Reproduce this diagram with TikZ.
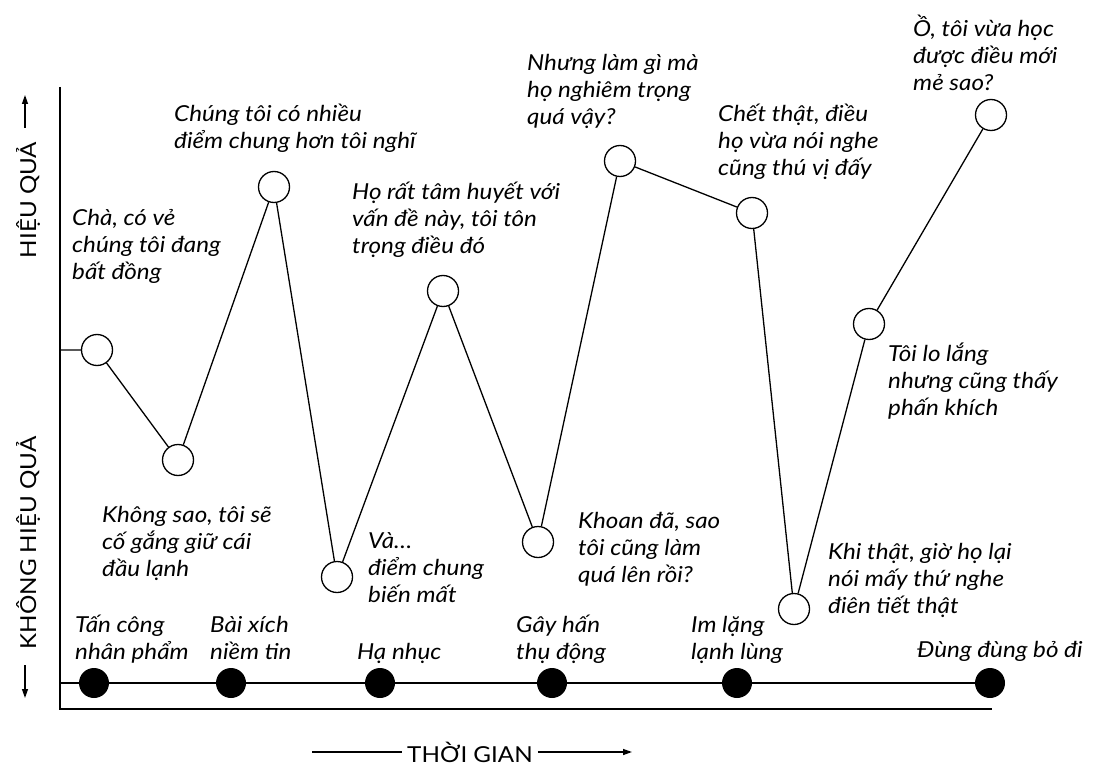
\documentclass[tikz,border=0pt]{standalone}
\usepackage{fontspec}
\setmainfont{Lato}[FakeStretch=1.1]
\usetikzlibrary{arrows.meta, positioning}
% fixed height of every first line, so that the north west corner sets the baseline
\newcommand{\firstline}{\rule{0pt}{24pt}}
\tikzset{
	state/.style    ={circle, draw=black, line width=1.3pt, fill=white, minimum size=31pt, inner sep=0pt},
	tactic/.style   ={circle, fill=black, minimum size=30pt, inner sep=0pt},
	thought/.style  ={anchor=north west, align=left, inner sep=0pt, font=\fontsize{22}{27}\selectfont\itshape},
	axislabel/.style={inner sep=0pt, font=\fontsize{22}{27}\selectfont},
	swing/.style    ={line width=1.3pt},
	axisline/.style ={line width=1.8pt},
	axisarrow/.style={-{Triangle[length=9pt, width=6pt]}, line width=1.3pt},
}

\begin{document}
\begin{tikzpicture}[x=1pt, y=-1pt]
	\useasboundingbox (0,0) rectangle (1100,767);
	% axes
	\coordinate (top) at (60,87);
	\coordinate (origin) at (60,709);
	\coordinate (right) at (992,709);
	\draw[axisline] (top) -- (origin) -- (right);
	\node[axislabel, rotate=90, anchor=base] (good) at (36,200) {HIỆU QUẢ};
	\node[axislabel, rotate=90, anchor=base] (bad) at (36,543) {KHÔNG HIỆU QUẢ};
	\coordinate (up0) at (25,128);
	\coordinate (up1) at (25,95);
	\coordinate (down0) at (25,665);
	\coordinate (down1) at (25,698);
	\draw[axisarrow] (up0) -- (up1);
	\draw[axisarrow] (down0) -- (down1);
	\node[axislabel, inner xsep=5pt] (time) at (470,752) {THỜI GIAN};
	\coordinate (time0) at (312,752);
	\coordinate (time1) at (632,752);
	\draw[line width=1.3pt] (time0) -- (time.west);
	\draw[axisarrow] (time.east) -- (time1);
	% tactics along the time line
	\coordinate (line0) at (60,683);
	\coordinate (line1) at (990,683);
	\draw[axisline] (line0) -- (line1);
	\node[tactic] (d1) at (94,683) {};
	\node[tactic] (d2) at (231,683) {};
	\node[tactic] (d3) at (380,683) {};
	\node[tactic] (d4) at (552,683) {};
	\node[tactic] (d5) at (737,683) {};
	\node[tactic] (d6) at (990,683) {};
	\node[thought] (t1) at (75,608) {\firstline Tấn công\\nhân phẩm};
	\node[thought] (t2) at (210,608) {\firstline Bài xích\\niềm tin};
	\node[thought] (t3) at (357,635) {\firstline Hạ nhục};
	\node[thought] (t4) at (516,608) {\firstline Gây hấn\\thụ động};
	\node[thought] (t5) at (691,608) {\firstline Im lặng\\lạnh lùng};
	\node[thought] (t6) at (917,633) {\firstline Đùng đùng bỏ đi};
	% how it feels
	\coordinate (mid) at (60,350);
	\node[state] (p1) at (97,350) {};
	\node[state] (p2) at (178,460) {};
	\node[state] (p3) at (274,187) {};
	\node[state] (p4) at (337,577) {};
	\node[state] (p5) at (443,291) {};
	\node[state] (p6) at (538,542) {};
	\node[state] (p7) at (620,161) {};
	\node[state] (p8) at (752,213) {};
	\node[state] (p9) at (794,609) {};
	\node[state] (p10) at (869,324) {};
	\node[state] (p11) at (991,115) {};
	\draw[swing] (mid) -- (p1) (p1) -- (p2) (p2) -- (p3) (p3) -- (p4) (p4) -- (p5) (p5) -- (p6)
		(p6) -- (p7) (p7) -- (p8) (p8) -- (p9) (p9) -- (p10) (p10) -- (p11);
	\node[thought] (s1) at (72,201) {\firstline Chà, có vẻ\\chúng tôi đang\\bất đồng};
	\node[thought] (s2) at (102,498) {\firstline Không sao, tôi sẽ\\cố gắng giữ cái\\đầu lạnh};
	\node[thought] (s3) at (174,97) {\firstline Chúng tôi có nhiều\\điểm chung hơn tôi nghĩ};
	\node[thought] (s4) at (368,524) {\firstline Và…\\điểm chung\\biến mất};
	\node[thought] (s5) at (352,175) {\firstline Họ rất tâm huyết với\\vấn đề này, tôi tôn\\trọng điều đó};
	\node[thought] (s6) at (578,504) {\firstline Khoan đã, sao\\tôi cũng làm\\quá lên rồi?};
	\node[thought] (s7) at (527,46) {\firstline Nhưng làm gì mà\\họ nghiêm trọng\\quá vậy?};
	\node[thought] (s8) at (718,97) {\firstline Chết thật, điều\\họ vừa nói nghe\\cũng thú vị đấy};
	\node[thought] (s9) at (828,535) {\firstline Khi thật, giờ họ lại\\nói mấy thứ nghe\\điên tiết thật};
	\node[thought] (s10) at (888,337) {\firstline Tôi lo lắng\\nhưng cũng thấy\\phấn khích};
	\node[thought] (s11) at (913,12) {\firstline Ồ, tôi vừa học\\được điều mới\\mẻ sao?};
\end{tikzpicture}
\end{document}
